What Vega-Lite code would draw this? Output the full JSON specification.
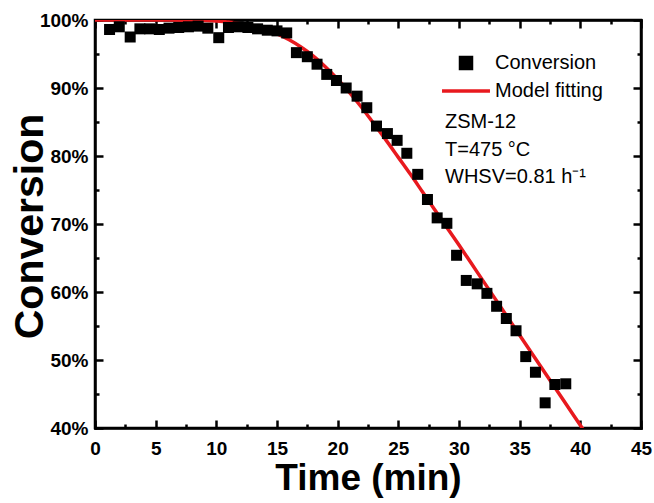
{
  "$schema": "https://vega.github.io/schema/vega-lite/v6.json",
  "width": 546,
  "height": 408,
  "autosize": {"type": "none"},
  "padding": {"left": 95, "top": 20, "right": 13, "bottom": 75},
  "background": "white",
  "config": {
    "font": "Liberation Sans",
    "view": {"stroke": "black", "strokeWidth": 2.5},
    "axis": {
      "grid": false,
      "zindex": 1,
      "domainColor": "black",
      "domainWidth": 2.5,
      "domainCap": "square",
      "ticks": true,
      "tickColor": "black",
      "tickWidth": 2.5,
      "tickOpacity": 1,
      "labelFont": "Liberation Sans",
      "labelFontWeight": "bold",
      "labelFontSize": 19,
      "labelColor": "black",
      "labelOverlap": false,
      "labelFlush": false,
      "titleFont": "Liberation Sans",
      "titleFontWeight": "bold",
      "titleColor": "black"
    }
  },
  "datasets": {
    "obs": [
      {"t": 1.2, "c": 98.6}, {"t": 2.0, "c": 99.0}, {"t": 2.9, "c": 97.5}, {"t": 3.7, "c": 98.7},
      {"t": 4.5, "c": 98.7}, {"t": 5.3, "c": 98.6}, {"t": 6.1, "c": 98.8}, {"t": 6.9, "c": 98.9},
      {"t": 7.7, "c": 99.0}, {"t": 8.5, "c": 99.1}, {"t": 9.3, "c": 98.8}, {"t": 10.2, "c": 97.4},
      {"t": 11.0, "c": 98.9}, {"t": 11.8, "c": 99.0}, {"t": 12.6, "c": 98.9}, {"t": 13.4, "c": 98.7},
      {"t": 14.2, "c": 98.5}, {"t": 15.0, "c": 98.4}, {"t": 15.8, "c": 98.1}, {"t": 16.6, "c": 95.2},
      {"t": 17.5, "c": 94.6}, {"t": 18.3, "c": 93.5}, {"t": 19.1, "c": 92.0}, {"t": 19.9, "c": 91.1},
      {"t": 20.7, "c": 90.0}, {"t": 21.6, "c": 88.8}, {"t": 22.4, "c": 87.1}, {"t": 23.2, "c": 84.4},
      {"t": 24.1, "c": 83.3}, {"t": 24.9, "c": 82.3}, {"t": 25.7, "c": 80.4}, {"t": 26.6, "c": 77.3},
      {"t": 27.4, "c": 73.6}, {"t": 28.2, "c": 70.9}, {"t": 29.0, "c": 70.1}, {"t": 29.8, "c": 65.4},
      {"t": 30.6, "c": 61.7}, {"t": 31.5, "c": 61.2}, {"t": 32.3, "c": 59.8}, {"t": 33.1, "c": 57.9},
      {"t": 33.9, "c": 56.1}, {"t": 34.7, "c": 54.3}, {"t": 35.5, "c": 50.5}, {"t": 36.3, "c": 48.2},
      {"t": 37.1, "c": 43.7}, {"t": 37.9, "c": 46.4}, {"t": 38.8, "c": 46.5}
    ],
    "fit": [
      {"t": 0, "c": 100}, {"t": 2, "c": 100}, {"t": 4, "c": 100}, {"t": 6, "c": 100},
      {"t": 8, "c": 99.97}, {"t": 9, "c": 99.93}, {"t": 10, "c": 99.85}, {"t": 11, "c": 99.7},
      {"t": 12, "c": 99.45}, {"t": 13, "c": 99.1}, {"t": 14, "c": 98.6}, {"t": 15, "c": 97.95},
      {"t": 16, "c": 97.1}, {"t": 17, "c": 96.0}, {"t": 18, "c": 94.7}, {"t": 19, "c": 93.1},
      {"t": 20, "c": 91.3}, {"t": 21, "c": 89.3}, {"t": 22, "c": 87.1}, {"t": 23, "c": 84.7},
      {"t": 24, "c": 82.3}, {"t": 25, "c": 79.8}, {"t": 26, "c": 77.3}, {"t": 27, "c": 74.7},
      {"t": 28, "c": 72.1}, {"t": 29, "c": 69.5}, {"t": 30, "c": 66.9}, {"t": 31, "c": 64.25},
      {"t": 32, "c": 61.6}, {"t": 33, "c": 58.95}, {"t": 34, "c": 56.3}, {"t": 35, "c": 53.65},
      {"t": 36, "c": 51.0}, {"t": 37, "c": 48.35}, {"t": 38, "c": 45.7}, {"t": 39, "c": 43.05},
      {"t": 40, "c": 40.4}, {"t": 41, "c": 37.75}
    ]
  },
  "layer": [
    {
      "data": {"name": "fit"},
      "mark": {"type": "line", "color": "#e8191e", "strokeWidth": 3.5, "clip": true, "interpolate": "monotone"},
      "encoding": {
        "x": {
          "field": "t", "type": "quantitative",
          "scale": {"domain": [0, 45], "nice": false},
          "axis": {
            "orient": "bottom",
            "values": [0, 2.5, 5, 7.5, 10, 12.5, 15, 17.5, 20, 22.5, 25, 27.5, 30, 32.5, 35, 37.5, 40, 42.5, 45],
            "labelExpr": "datum.value % 5 === 0 ? datum.label : ''",
            "tickSize": {"condition": {"test": "datum.value % 5 === 0", "value": -8}, "value": -4},
            "labelPadding": 19,
            "title": "Time (min)",
            "titleFontSize": 37,
            "titleBaseline": "alphabetic",
            "titleY": 61
          }
        },
        "y": {
          "field": "c", "type": "quantitative",
          "scale": {"domain": [40, 100], "nice": false},
          "axis": {
            "orient": "left",
            "values": [40, 45, 50, 55, 60, 65, 70, 75, 80, 85, 90, 95, 100],
            "labelExpr": "datum.value % 10 === 0 ? datum.value + '%' : ''",
            "tickSize": {"condition": {"test": "datum.value % 10 === 0", "value": -8}, "value": -4},
            "labelPadding": 15,
            "title": "Conversion",
            "titleFontSize": 41,
            "titleAngle": -90,
            "titleBaseline": "alphabetic",
            "titleAlign": "center",
            "titleX": -53,
            "titleY": 206
          }
        },
        "color": {
          "datum": "Model fitting",
          "type": "nominal",
          "scale": {"domain": ["Conversion", "Model fitting"], "range": ["black", "#e8191e"]},
          "legend": {
            "orient": "none",
            "legendX": 347,
            "legendY": 33,
            "title": null,
            "padding": 0,
            "symbolSize": 121,
            "labelFont": "Liberation Sans",
            "labelFontSize": 20,
            "labelFontWeight": "normal",
            "labelColor": "black",
            "labelOffset": 4,
            "rowPadding": 5,
            "encode": {
              "symbols": {
                "update": {
                  "x": {"value": 24},
                  "shape": {"signal": "datum.value === 'Conversion' ? 'square' : 'M-4.36,0H4.36'"},
                  "size": {"value": 121},
                  "fill": {"signal": "datum.value === 'Conversion' ? 'black' : 'transparent'"},
                  "stroke": {"signal": "datum.value === 'Conversion' ? 'transparent' : '#e8191e'"},
                  "strokeWidth": {"value": 3.5},
                  "opacity": {"value": 1}
                }
              },
              "labels": {
                "update": {
                  "x": {"value": 53}
                }
              }
            }
          }
        }
      }
    },
    {
      "data": {"name": "obs"},
      "mark": {"type": "square", "size": 121, "filled": true, "opacity": 1},
      "encoding": {
        "x": {
          "field": "t", "type": "quantitative",
          "axis": {
            "orient": "top",
            "values": [0, 2.5, 5, 7.5, 10, 12.5, 15, 17.5, 20, 22.5, 25, 27.5, 30, 32.5, 35, 37.5, 40, 42.5, 45],
            "labels": false,
            "title": null,
            "tickSize": {"condition": {"test": "datum.value % 5 === 0", "value": -8}, "value": -4}
          }
        },
        "y": {
          "field": "c", "type": "quantitative",
          "axis": {
            "orient": "right",
            "values": [40, 45, 50, 55, 60, 65, 70, 75, 80, 85, 90, 95, 100],
            "labels": false,
            "title": null,
            "tickSize": {"condition": {"test": "datum.value % 10 === 0", "value": -8}, "value": -4}
          }
        },
        "color": {"datum": "Conversion", "type": "nominal"}
      }
    },
    {
      "data": {"values": [{}]},
      "mark": {
        "type": "text",
        "text": ["ZSM-12", "T=475 °C", "WHSV=0.81 h⁻¹"],
        "align": "left",
        "baseline": "middle",
        "lineHeight": 27.5,
        "fontSize": 20,
        "font": "Liberation Sans",
        "color": "black"
      },
      "encoding": {
        "x": {"datum": 28.85, "type": "quantitative", "axis": null},
        "y": {"datum": 85.0, "type": "quantitative", "axis": null}
      }
    }
  ]
}
